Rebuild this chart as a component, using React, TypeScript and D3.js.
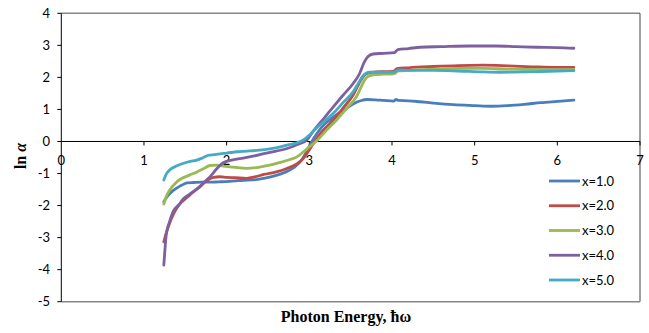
import React from "react";
import * as d3 from "d3";

const xTicks = [0, 1, 2, 3, 4, 5, 6, 7];
const yTicks = [4, 3, 2, 1, 0, -1, -2, -3, -4, -5];
const seriesNames = ["x=1.0", "x=2.0", "x=3.0", "x=4.0", "x=5.0"];
const seriesColors = ["#4A7EBB", "#BE4B48", "#98B954", "#7D60A0", "#46AAC5"];

const s1: [number, number][] = [[1.24,-1.88],[1.28,-1.72],[1.33,-1.58],[1.40,-1.45],[1.46,-1.36],[1.52,-1.29],[1.6,-1.28],[1.7,-1.27],[1.8,-1.27],[1.9,-1.26],[2.0,-1.25],[2.1,-1.23],[2.2,-1.21],[2.32,-1.2],[2.45,-1.15],[2.6,-1.06],[2.7,-0.97],[2.81,-0.82],[2.91,-0.57],[2.97,-0.3],[3.02,-0.05],[3.08,0.2],[3.15,0.45],[3.25,0.68],[3.33,0.84],[3.43,1.0],[3.53,1.17],[3.62,1.27],[3.7,1.31],[3.8,1.3],[3.9,1.28],[4.02,1.26],[4.05,1.31],[4.08,1.28],[4.2,1.27],[4.34,1.24],[4.5,1.2],[4.74,1.15],[5.0,1.12],[5.2,1.1],[5.4,1.12],[5.6,1.16],[5.8,1.21],[6.0,1.25],[6.2,1.29]];
const s2: [number, number][] = [[1.24,-3.13],[1.27,-2.85],[1.30,-2.62],[1.35,-2.3],[1.40,-2.07],[1.44,-1.93],[1.52,-1.75],[1.60,-1.57],[1.68,-1.4],[1.76,-1.22],[1.84,-1.12],[1.92,-1.1],[2.0,-1.12],[2.1,-1.13],[2.24,-1.15],[2.35,-1.1],[2.45,-1.03],[2.6,-0.95],[2.72,-0.85],[2.85,-0.7],[2.93,-0.52],[2.99,-0.3],[3.05,-0.06],[3.15,0.3],[3.29,0.67],[3.41,1.05],[3.53,1.45],[3.6,1.8],[3.65,2.02],[3.7,2.12],[3.8,2.17],[3.9,2.18],[4.02,2.19],[4.06,2.27],[4.2,2.3],[4.5,2.34],[4.8,2.37],[5.1,2.38],[5.4,2.36],[5.7,2.33],[6.0,2.31],[6.2,2.31]];
const s3: [number, number][] = [[1.24,-1.95],[1.27,-1.72],[1.31,-1.52],[1.38,-1.3],[1.46,-1.15],[1.55,-1.05],[1.64,-0.95],[1.72,-0.85],[1.8,-0.75],[1.88,-0.74],[1.96,-0.77],[2.08,-0.8],[2.24,-0.84],[2.4,-0.8],[2.52,-0.74],[2.65,-0.65],[2.76,-0.57],[2.85,-0.48],[2.93,-0.32],[3.0,-0.17],[3.09,0.02],[3.2,0.33],[3.33,0.67],[3.45,1.03],[3.57,1.4],[3.63,1.72],[3.67,1.92],[3.72,2.04],[3.8,2.09],[3.9,2.1],[4.02,2.11],[4.08,2.2],[4.2,2.22],[4.5,2.26],[4.8,2.28],[5.1,2.28],[5.4,2.26],[5.7,2.25],[6.0,2.24],[6.2,2.25]];
const s4: [number, number][] = [[1.24,-3.86],[1.25,-3.5],[1.27,-2.9],[1.31,-2.5],[1.35,-2.2],[1.42,-1.98],[1.48,-1.78],[1.55,-1.65],[1.62,-1.52],[1.68,-1.4],[1.75,-1.22],[1.80,-1.1],[1.88,-0.85],[1.94,-0.7],[2.0,-0.62],[2.1,-0.56],[2.2,-0.52],[2.32,-0.46],[2.45,-0.38],[2.6,-0.3],[2.73,-0.22],[2.85,-0.1],[2.97,0.05],[3.05,0.33],[3.17,0.7],[3.29,1.08],[3.41,1.45],[3.53,1.81],[3.61,2.13],[3.66,2.45],[3.71,2.65],[3.77,2.73],[3.9,2.75],[4.03,2.77],[4.07,2.87],[4.2,2.9],[4.34,2.94],[4.6,2.96],[4.94,2.98],[5.27,2.98],[5.5,2.96],[5.75,2.94],[6.0,2.93],[6.2,2.91]];
const s5: [number, number][] = [[1.24,-1.2],[1.27,-1.02],[1.31,-0.89],[1.4,-0.76],[1.48,-0.68],[1.56,-0.62],[1.64,-0.58],[1.72,-0.5],[1.78,-0.43],[1.85,-0.41],[1.92,-0.39],[2.0,-0.36],[2.12,-0.32],[2.25,-0.3],[2.4,-0.27],[2.52,-0.23],[2.65,-0.17],[2.75,-0.1],[2.85,-0.04],[2.93,0.05],[3.01,0.22],[3.1,0.45],[3.2,0.67],[3.29,0.88],[3.41,1.22],[3.53,1.55],[3.6,1.85],[3.65,2.05],[3.73,2.16],[3.85,2.16],[4.02,2.16],[4.08,2.23],[4.2,2.22],[4.5,2.22],[4.8,2.2],[5.1,2.17],[5.31,2.16],[5.6,2.17],[5.9,2.19],[6.2,2.21]];
const allSeries = [s1, s2, s3, s4, s5];

const W = 649, H = 333;
const left = 61.3, right = 640, top = 13.3, bottom = 301.7;

export default function App() {
  const x = d3.scaleLinear().domain([0, 7]).range([left, right]);
  const y = d3.scaleLinear().domain([-5, 4]).range([bottom, top]);
  const line = d3.line<[number, number]>().x(d => x(d[0])).y(d => y(d[1])).curve(d3.curveMonotoneX);
  const tickFont = "Lato, 'Liberation Sans', sans-serif";
  return (
    <svg width={W} height={H} style={{ position: "absolute", left: 0, top: 0, background: "#fff" }}>
      {/* frame */}
      <line x1={left} x2={right} y1={top} y2={top} stroke="#868686" strokeWidth={1.5} />
      <line x1={right} x2={right} y1={top} y2={bottom} stroke="#404040" strokeWidth={1} />
      <line x1={left} x2={right} y1={bottom} y2={bottom} stroke="#868686" strokeWidth={1.5} />
      {/* y axis */}
      <line x1={left} x2={left} y1={top} y2={bottom} stroke="#000" strokeWidth={1} />
      {yTicks.map(t => (
        <g key={"y" + t}>
          <line x1={left - 4} x2={left} y1={y(t)} y2={y(t)} stroke="#000" />
          <text x={50} y={y(t)} dy="0.35em" textAnchor="end" fontSize={13} fontFamily={tickFont} fill="#000">{t}</text>
        </g>
      ))}
      {/* x axis at zero */}
      <line x1={left} x2={right} y1={y(0)} y2={y(0)} stroke="#000" strokeWidth={1} />
      {xTicks.map(t => (
        <g key={"x" + t}>
          {t > 0 && <line x1={x(t)} x2={x(t)} y1={y(0)} y2={y(0) + 4} stroke="#000" />}
          <text x={x(t)} y={165} textAnchor="middle" fontSize={13} fontFamily={tickFont} fill="#000">{t}</text>
        </g>
      ))}
      {/* series */}
      {allSeries.map((s, i) => (
        <path key={"s" + i} d={line(s) || ""} fill="none" stroke={seriesColors[i]} strokeWidth={2.8} strokeLinejoin="round" strokeLinecap="round" />
      ))}
      {/* legend */}
      {seriesNames.map((n, i) => {
        const ly = 181 + i * 24.75;
        return (
          <g key={"l" + i}>
            <line x1={549} x2={580} y1={ly} y2={ly} stroke={seriesColors[i]} strokeWidth={2.8} />
            <text x={582} y={ly} dy="0.35em" fontSize={13} fontFamily={tickFont} fill="#000">{n}</text>
          </g>
        );
      })}
      {/* axis titles */}
      <text transform={`translate(26,156) rotate(-90)`} textAnchor="middle" fontSize={16} fontWeight="bold" fontFamily="'Liberation Serif', 'Times New Roman', serif" fill="#000">
        ln <tspan fontStyle="italic">α</tspan>
      </text>
      <text x={346} y={322} textAnchor="middle" fontSize={16} fontWeight="bold" fontFamily="'Liberation Serif', 'Times New Roman', serif" fill="#000">
        Photon Energy, ħω
      </text>
    </svg>
  );
}
